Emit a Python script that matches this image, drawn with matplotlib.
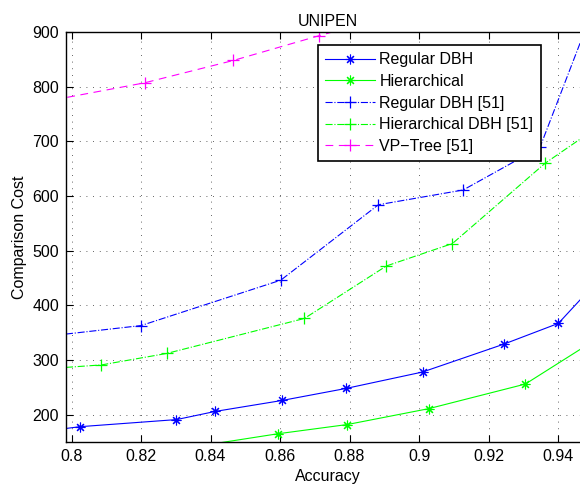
"""
    UNIPEN comparison cost vs accuracy
"""
import matplotlib
matplotlib.use('Agg')
import matplotlib.pyplot as plt

plt.rcParams['font.family'] = ['Liberation Sans', 'DejaVu Sans']
plt.rcParams['font.size'] = 11.5

# Regular DBH (solid, asterisk)
reg_x = [0.795, 0.8024, 0.8302, 0.8414, 0.8606, 0.879, 0.901, 0.9244, 0.9401, 0.95]
reg_y = [172, 178, 191, 206, 226, 248, 278, 329, 367, 435]

# Hierarchical (solid, asterisk)
hier_x = [0.83, 0.8593, 0.8794, 0.9028, 0.9306, 0.95]
hier_y = [136, 165, 182, 211, 256, 334]

# Regular DBH [51]
reg51_x = [0.795, 0.82, 0.8602, 0.8883, 0.9127, 0.9348, 0.95]
reg51_y = [345, 363, 446, 584, 611, 689, 940]

# Hierarchical DBH [51]
hier51_x = [0.795, 0.8086, 0.8274, 0.867, 0.8906, 0.9096, 0.9363, 0.95]
hier51_y = [285, 291, 312, 376, 472, 513, 660, 720]

# VP-Tree [51]
vp_x = [0.795, 0.821, 0.8466, 0.8711, 0.895]
vp_y = [776, 807, 848, 893, 935]

xticks = [0.8, 0.82, 0.84, 0.86, 0.88, 0.9, 0.92, 0.94]
xticklabels = ['0.8', '0.82', '0.84', '0.86', '0.88', '0.9', '0.92', '0.94']
yticks = [200, 300, 400, 500, 600, 700, 800, 900]

fig = plt.figure(figsize=(5.8, 4.91), dpi=100)
ax = fig.add_axes([66 / 580, 49 / 491, 524 / 580, 410 / 491])

star = (8, 2, 0)  # matlab style asterisk
lw = 0.8
ax.plot(reg_x, reg_y, '-', color='#0000ff', lw=lw, marker=star, ms=7, mew=0.8,
        label='Regular DBH')
ax.plot(hier_x, hier_y, '-', color='#00ff00', lw=lw, marker=star, ms=7, mew=0.8,
        label='Hierarchical')
ax.plot(reg51_x, reg51_y, '-.', color='#0000ff', lw=lw, marker='+', ms=8, mew=0.9,
        label='Regular DBH [51]')
ax.plot(hier51_x, hier51_y, '-.', color='#00ff00', lw=lw, marker='+', ms=8, mew=0.9,
        label='Hierarchical DBH [51]')
ax.plot(vp_x, vp_y, '--', color='#ff00ff', lw=lw, marker='+', ms=8, mew=0.9,
        dashes=(7, 5), label='VP\u2212Tree [51]')

ax.set_xlim(0.7984, 0.9492)
ax.set_ylim(150, 900)
ax.set_xticks(xticks)
ax.set_xticklabels(xticklabels)
ax.set_yticks(yticks)
ax.grid(True, color='#303030', linestyle=(0, (1, 7)), linewidth=0.6)
ax.tick_params(direction='in', length=5, top=True, right=False, width=0.8, pad=5)
for sp in ax.spines.values():
    sp.set_linewidth(1.0)
ax.spines['right'].set_visible(False)

ax.set_title('UNIPEN', fontsize=11.5, pad=4)
ax.set_xlabel('Accuracy', labelpad=4)
ax.set_ylabel('Comparison Cost', labelpad=4)

leg = ax.legend(loc='upper left', bbox_to_anchor=(318 / 580, 1 - 45 / 491),
                bbox_transform=fig.transFigure, frameon=True, fancybox=False,
                borderpad=0.45, handlelength=3.1, labelspacing=0.42,
                handletextpad=0.3, borderaxespad=0, framealpha=1)
leg.get_frame().set_edgecolor('black')
leg.get_frame().set_linewidth(1.2)

fig.savefig('out.png', dpi=100)
